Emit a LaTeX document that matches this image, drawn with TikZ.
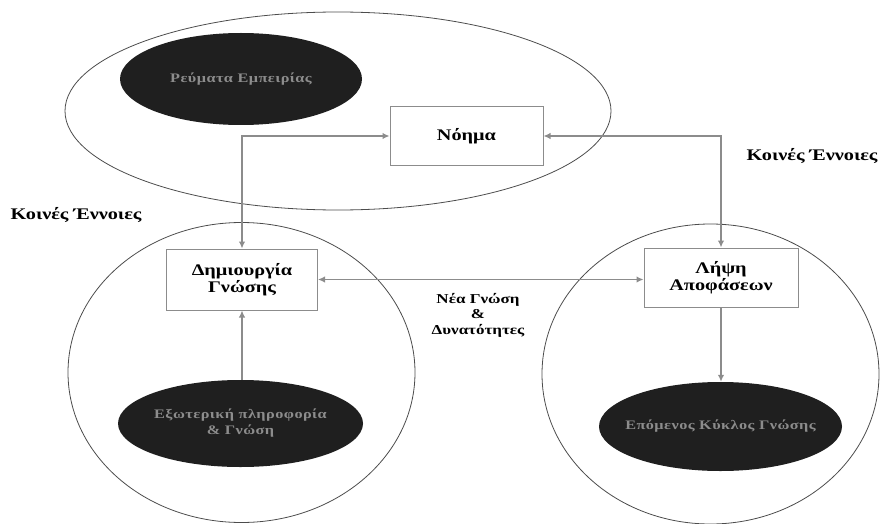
\documentclass[tikz,border=0pt]{standalone}
\usepackage{fontspec}
\setmainfont{Liberation Serif}[FakeStretch=1.25]
\newfontfamily\blobfont{Liberation Serif}[FakeStretch=1.25,LetterSpace=3.5]
\usetikzlibrary{shapes.geometric,arrows.meta}
\begin{document}
\begin{tikzpicture}[x=1pt,y=-1pt,
  ring/.style={draw=black!70, line width=0.8pt, ellipse, inner sep=0pt},
  blob/.style={fill=black!88, draw=none, ellipse, inner sep=-30pt, text=black!45,
    font=\blobfont\bfseries\fontsize{13}{16}\selectfont, align=center},
  box/.style={draw=black!45, line width=1pt, fill=white, rectangle, inner sep=0pt,
    font=\bfseries\fontsize{16.2}{17}\selectfont, align=center},
  lbl/.style={font=\bfseries\fontsize{16.2}{17}\selectfont, align=center},
  small/.style={font=\bfseries\fontsize{13.6}{15.5}\selectfont, align=center},
  tip/.tip={Latex[length=7pt,width=6.5pt]},
  both/.style={draw=black!45, line width=1.8pt, tip-tip},
  one/.style={draw=black!45, line width=1.8pt, -tip}]
\useasboundingbox (0,0) rectangle (880,524);
% outer rings
\node[ring, minimum width=546pt, minimum height=198pt] (top) at (338,111) {};
\node[ring, minimum width=347pt, minimum height=300pt] (left) at (241.5,372.5) {};
\node[ring, minimum width=337pt, minimum height=300pt] (right) at (710.5,374) {};
% dark ellipses
\node[blob, minimum width=242pt, minimum height=92pt] (flow) at (241,79) {Ρεύματα Εμπειρίας};
\node[blob, minimum width=245pt, minimum height=87pt] (ext) at (240.5,423.5) {Εξωτερική πληροφορία\\\& Γνώση};
\node[blob, minimum width=243pt, minimum height=89pt] (next) at (720.5,426.5) {Επόμενος Κύκλος Γνώσης};
% boxes
\node[box, minimum width=153pt, minimum height=58pt] (nous) at (466.5,136) {Νόημα};
\node[box, minimum width=151pt, minimum height=61pt] (dim) at (242,279.5) {Δημιουργία\\Γνώσης};
\node[box, minimum width=154pt, minimum height=59pt] (lip) at (721,277.5) {Λήψη\\Αποφάσεων};
% labels
\node[lbl] (kl) at (76,215) {Κοινές Έννοιες};
\node[lbl] (kr) at (812,156) {Κοινές Έννοιες};
\node[small] (new) at (478,315) {Νέα Γνώση\\\&\\Δυνατότητες};
% connectors
\draw[both] (nous.west) -| (dim.north);
\draw[both] (nous.east) -| (lip.north);
\draw[both] (dim.east) -- (dim.east -| lip.west);
\draw[one] (dim.south |- ext.north) -- (dim.south);
\draw[one] (lip.south) -- (lip.south |- next.north);
\end{tikzpicture}
\end{document}
